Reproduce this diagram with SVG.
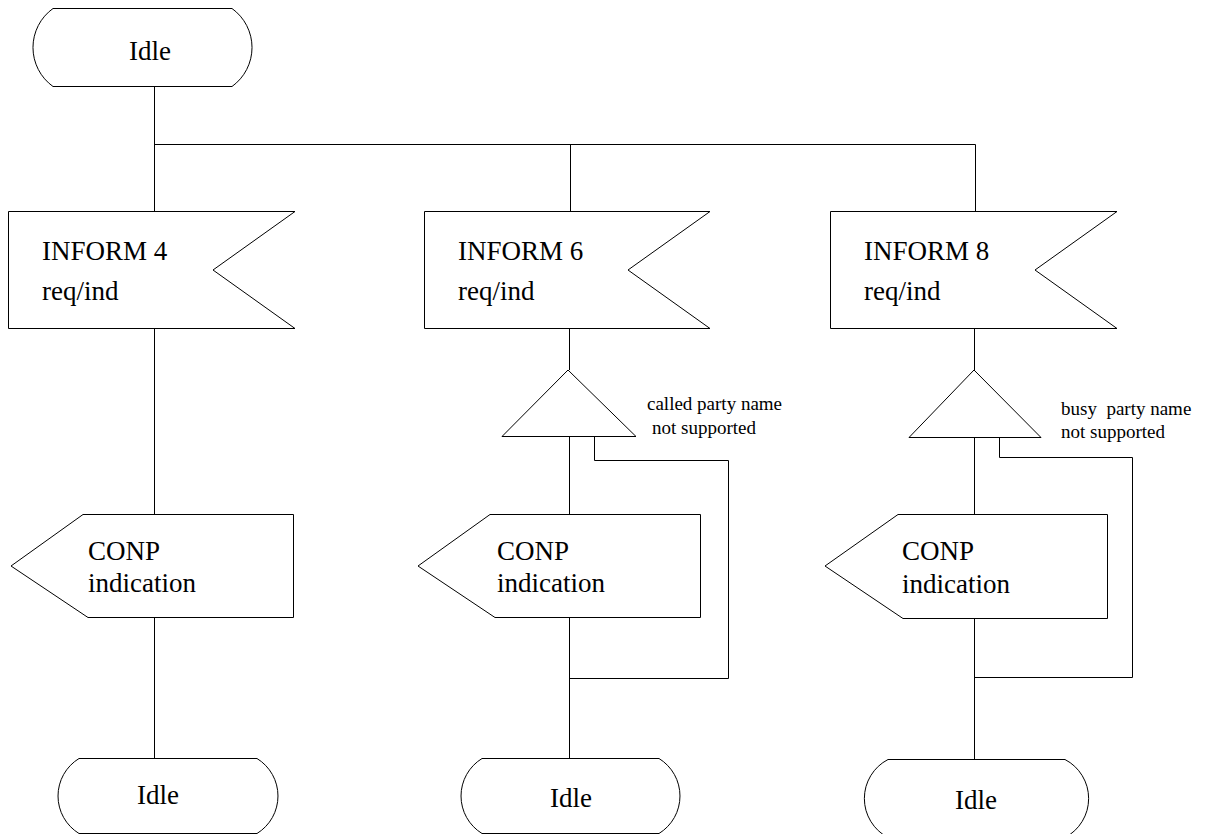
<svg xmlns="http://www.w3.org/2000/svg" width="1207" height="834" viewBox="0 0 1207 834" font-family="Liberation Serif, Times New Roman, serif">
<style>
.s{fill:#fff;stroke:#000;stroke-width:1}
.c{fill:none;stroke:#000;stroke-width:1}
.t{font-size:27px;fill:#000}
.m{font-size:19px;fill:#000}
</style>
<rect width="1207" height="834" fill="#fff"/>
<g id="connectors">
<path class="c" d="M154.5,86 V211"/>
<path class="c" d="M154.5,144.5 H975.5"/>
<path class="c" d="M570.5,144.5 V211"/>
<path class="c" d="M975.5,144.5 V211"/>
<path class="c" d="M154.5,328 V514"/>
<path class="c" d="M154.5,617 V758"/>
<path class="c" d="M569.5,328 V370"/>
<path class="c" d="M569.5,436 V514"/>
<path class="c" d="M569.5,617 V758"/>
<path class="c" d="M594.5,436 V460.5 H728.5 V678.5 H569.5"/>
<path class="c" d="M974.5,328 V370"/>
<path class="c" d="M974.5,437 V514"/>
<path class="c" d="M974.5,618 V759"/>
<path class="c" d="M999.5,437 V457.5 H1132.5 V677.5 H974.5"/>
</g>
<g id="idle_top">
<path class="s" d="M53,8.5 H232 A48,48 0 0 1 232,86.5 H53 A48,48 0 0 1 53,8.5 Z"/>
<text class="t" x="150" y="60" text-anchor="middle">Idle</text>
</g>
<g id="inform4">
<path class="s" d="M8.5,211.5 H295 L213,270 L295,328.5 H8.5 Z"/>
<text class="t" x="42" y="260">INFORM 4</text>
<text class="t" x="42" y="300">req/ind</text>
</g>
<g id="inform6">
<path class="s" d="M424.5,211.5 H710 L628,270 L710,328.5 H424.5 Z"/>
<text class="t" x="458" y="260">INFORM 6</text>
<text class="t" x="458" y="300">req/ind</text>
</g>
<g id="inform8">
<path class="s" d="M830.5,211.5 H1117 L1035,270 L1117,328.5 H830.5 Z"/>
<text class="t" x="864" y="260">INFORM 8</text>
<text class="t" x="864" y="300">req/ind</text>
</g>
<g id="decision6">
<path class="s" d="M568,370 L636,436.5 H502 Z"/>
<text class="m" x="647" y="410">called party name</text>
<text class="m" x="652" y="434">not supported</text>
</g>
<g id="decision8">
<path class="s" d="M974,370 L1041,437.5 H909 Z"/>
<text class="m" x="1061" y="415" xml:space="preserve">busy  party name</text>
<text class="m" x="1061" y="438">not supported</text>
</g>
<g id="conp4">
<path class="s" d="M83,514.5 H293.5 V617.5 H88 L11,566 Z"/>
<text class="t" x="88" y="560">CONP</text>
<text class="t" x="88" y="592">indication</text>
</g>
<g id="conp6">
<path class="s" d="M490,514.5 H700.5 V617.5 H495 L418,566 Z"/>
<text class="t" x="497" y="560">CONP</text>
<text class="t" x="497" y="592">indication</text>
</g>
<g id="conp8">
<path class="s" d="M898,514.5 H1107.5 V618.5 H903 L825,566 Z"/>
<text class="t" x="902" y="560">CONP</text>
<text class="t" x="902" y="593">indication</text>
</g>
<g id="idle_b1">
<path class="s" d="M79,758.5 H257 A44,44 0 0 1 257,833.5 H79 A44,44 0 0 1 79,758.5 Z"/>
<text class="t" x="158" y="804" text-anchor="middle">Idle</text>
</g>
<g id="idle_b2">
<path class="s" d="M482,758.5 H659 A44,44 0 0 1 659,833.5 H482 A44,44 0 0 1 482,758.5 Z"/>
<text class="t" x="571" y="807" text-anchor="middle">Idle</text>
</g>
<g id="idle_b3">
<path class="s" d="M888,759.5 H1065 A44,44 0 0 1 1065,837.5 H888 A44,44 0 0 1 888,759.5 Z"/>
<text class="t" x="976" y="809" text-anchor="middle">Idle</text>
</g>
</svg>
